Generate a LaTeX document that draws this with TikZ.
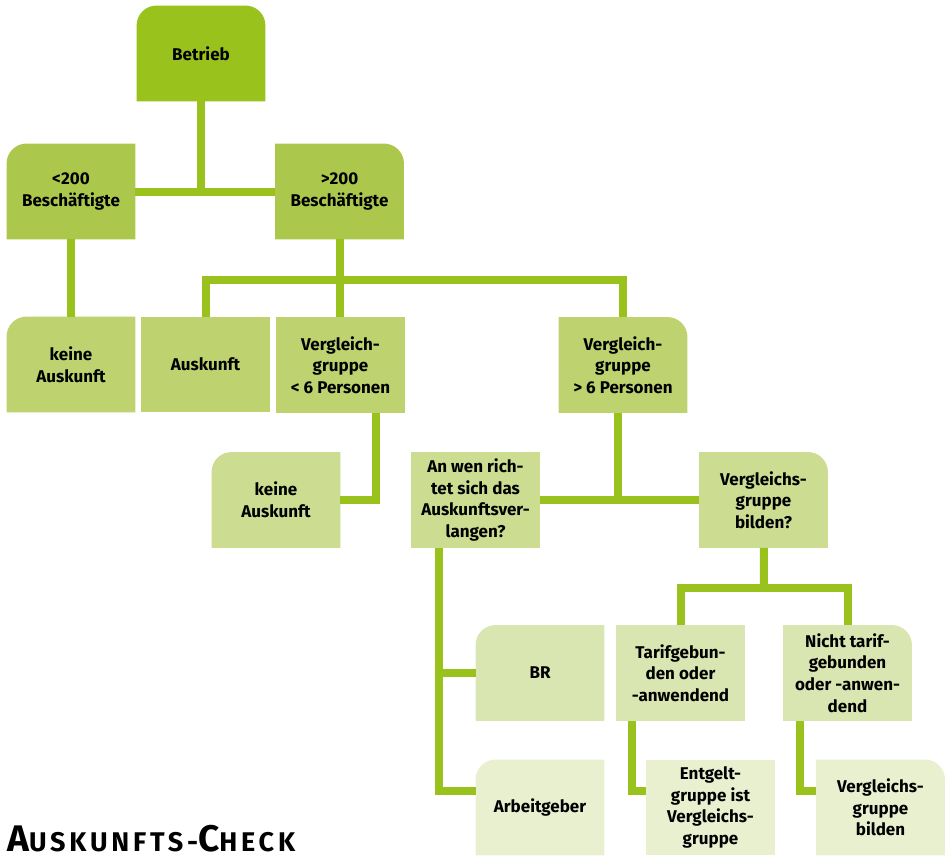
\documentclass[tikz,border=0pt]{standalone}
\usepackage{fontspec}
\setmainfont{Fira Sans}
\usetikzlibrary{backgrounds}

\definecolor{tone1}{HTML}{99C21C}
\definecolor{tone2}{HTML}{ACC84C}
\definecolor{tone3}{HTML}{BED36F}
\definecolor{tone4}{HTML}{CCDD91}
\definecolor{tone5}{HTML}{DAE6B2}
\definecolor{tone6}{HTML}{E8F0D0}

% fills behind a node, with the rounded corners it needs
\newcommand\fillsharp[2]{\fill[#2] (#1.south west) rectangle (#1.north east);}
\newcommand\filltl[2]{\fill[#2] (#1.south west) -- ([yshift=-20pt]#1.north west) arc[start angle=180, end angle=90, radius=20pt] -- (#1.north east) -- (#1.south east) -- cycle;}
\newcommand\filltr[2]{\fill[#2] (#1.south west) -- (#1.north west) -- ([xshift=-20pt]#1.north east) arc[start angle=90, end angle=0, radius=20pt] -- (#1.south east) -- cycle;}
\newcommand\filltop[2]{\fill[#2] (#1.south west) -- ([yshift=-20pt]#1.north west) arc[start angle=180, end angle=90, radius=20pt] -- ([xshift=-20pt]#1.north east) arc[start angle=90, end angle=0, radius=20pt] -- (#1.south east) -- cycle;}

\begin{document}
\begin{tikzpicture}[x=1pt, y=1pt,
    box/.style={minimum width=128.5pt, minimum height=95.5pt, inner sep=2pt, align=center, font=\bfseries\fontsize{17}{21.7}\selectfont},
    link/.style={draw=tone1, line width=8pt}]
    \useasboundingbox (0,0) rectangle (946,-855);

    \node[box] (betrieb) at (201,-53.5) {Betrieb};
    \node[box] (lt200) at (71,-191.5) {<200\\Beschäftigte};
    \node[box] (gt200) at (339.5,-191.5) {>200\\Beschäftigte};
    \node[box] (keine1) at (71,-364.5) {keine\\Auskunft};
    \node[box] (auskunft) at (205.5,-364.5) {Auskunft};
    \node[box] (lt6) at (340.5,-365) {Vergleich-\\gruppe\\< 6 Personen};
    \node[box] (gt6) at (623,-365) {Vergleich-\\gruppe\\> 6 Personen};
    \node[box] (keine2) at (276,-500) {keine\\Auskunft};
    \node[box] (anwen) at (475.5,-500) {An wen rich-\\tet sich das\\Auskunftsver-\\langen?};
    \node[box] (vbilden) at (763.5,-500) {Vergleichs-\\gruppe\\bilden?};
    \node[box] (br) at (540,-673) {BR};
    \node[box] (tarif) at (680.5,-673) {Tarifgebun-\\den oder\\-anwendend};
    \node[box] (nicht) at (847.5,-673) {Nicht tarif-\\gebunden\\oder -anwen-\\dend};
    \node[box] (arbeit) at (540,-807.5) {Arbeitgeber};
    \node[box] (entgelt) at (710.5,-807.5) {Entgelt-\\gruppe ist\\Vergleichs-\\gruppe};
    \node[box] (vgbilden) at (880.5,-807.5) {Vergleichs-\\gruppe\\bilden};

    \node[anchor=base west, inner sep=0pt, font=\bfseries\addfontfeatures{LetterSpace=14}] (title) at (7,-851)
        {\fontsize{37}{40}\selectfont A\fontsize{27}{30}\selectfont USKUNFTS-\fontsize{37}{40}\selectfont C\fontsize{27}{30}\selectfont HECK};

    \begin{pgfonlayer}{background}
        \filltop{betrieb}{tone1}
        \filltl{lt200}{tone2}
        \filltr{gt200}{tone2}
        \filltl{keine1}{tone3}
        \fillsharp{auskunft}{tone3}
        \fillsharp{lt6}{tone3}
        \filltr{gt6}{tone3}
        \filltl{keine2}{tone4}
        \fillsharp{anwen}{tone4}
        \filltr{vbilden}{tone4}
        \filltl{br}{tone5}
        \fillsharp{tarif}{tone5}
        \filltr{nicht}{tone5}
        \filltl{arbeit}{tone6}
        \fillsharp{entgelt}{tone6}
        \filltr{vgbilden}{tone6}
    \end{pgfonlayer}

    % junction points
    \coordinate (j2) at (340,-280);
    \coordinate (j3) at (618,-500);
    \coordinate (j4) at (439,-791);
    \coordinate (j5) at (764,-588);

    \draw[link] (betrieb.south) -- (betrieb.south |- lt200.east);
    \draw[link] (lt200) -- (gt200);
    \draw[link] (lt200) -- (keine1);
    \draw[link] (gt200.south) -- (gt200.south |- lt6.north);
    \draw[link] (auskunft.north) |- (j2) -| (gt6.north);
    \draw[link] ([xshift=35pt]lt6.south) |- (keine2.east);
    \draw[link] (gt6.south -| j3) -- (j3);
    \draw[link] (anwen) -- (vbilden);
    \draw[link] (anwen.south -| j4) |- (arbeit.west |- j4);
    \draw[link] (j4 |- br.west) -- (br.west);
    \draw[link] (vbilden) -- (j5);
    \draw[link] (tarif.north) |- (j5) -| (nicht.north);
    \draw[link] ([xshift=16pt]tarif.south west) |- (entgelt.west |- j4);
    \draw[link] ([xshift=17pt]nicht.south west) |- (vgbilden.west |- j4);
\end{tikzpicture}
\end{document}
